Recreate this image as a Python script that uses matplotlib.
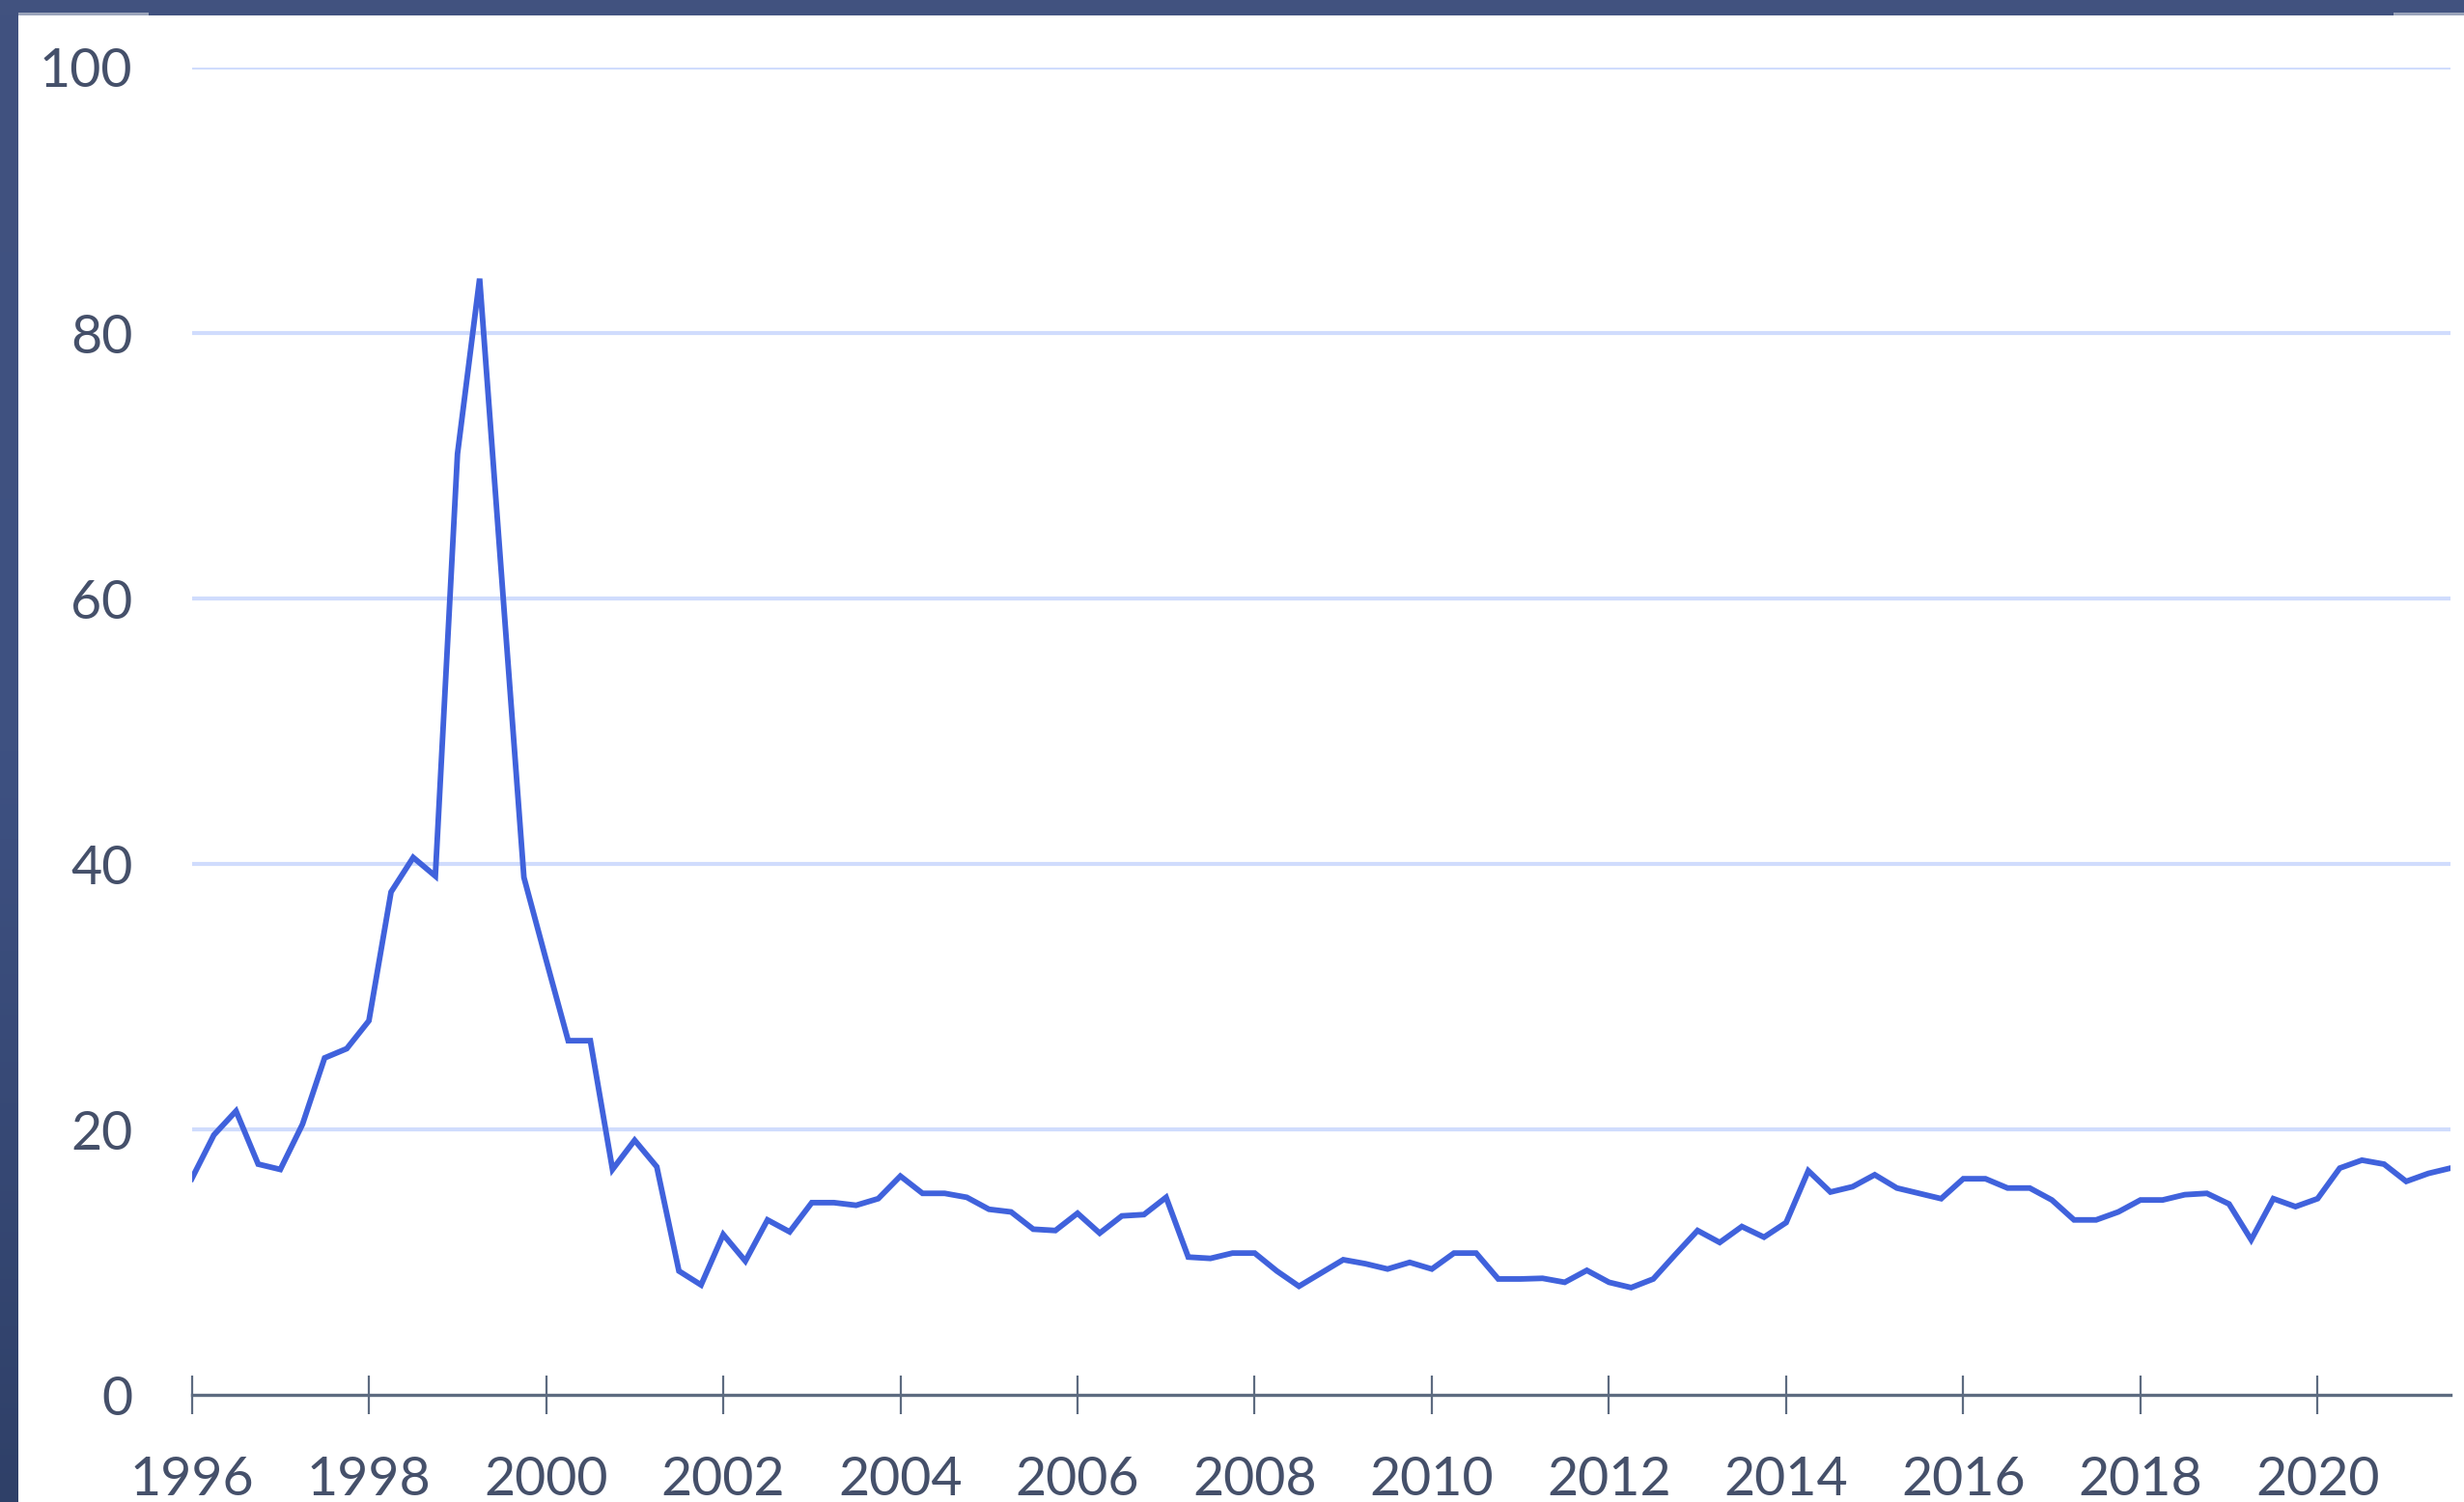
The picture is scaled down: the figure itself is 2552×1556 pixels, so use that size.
import numpy as np
import matplotlib.pyplot as plt
from matplotlib.patches import Rectangle
from matplotlib.colors import LinearSegmentedColormap

# quarterly values (1996 Q1 .. 2021 Q3)
years = np.arange(1996, 2021.5 + 0.01, 0.25)
values = [
    16.3, 19.6, 21.4, 17.4,
    17.0, 20.4, 25.4, 26.1,
    28.2, 37.9, 40.5, 39.1,
    70.9, 84.1, 61.5, 39.0,
    32.8, 26.7, 26.7, 17.0,
    19.2, 17.2, 9.35, 8.3,
    12.1, 10.1, 13.2, 12.3,
    14.5, 14.5, 14.3, 14.8,
    16.5, 15.2, 15.2, 14.9,
    14.0, 13.8, 12.5, 12.4,
    13.7, 12.2, 13.5, 13.6,
    14.9, 10.4, 10.3, 10.7,
    10.7, 9.35, 8.2, 9.2,
    10.2, 9.9, 9.5, 10.0,
    9.5, 10.7, 10.7, 8.75,
    8.75, 8.8, 8.5, 9.4,
    8.5, 8.1, 8.75, 10.6,
    12.4, 11.5, 12.7, 11.9,
    13.0, 16.9, 15.3, 15.7,
    16.6, 15.6, 15.2, 14.8,
    16.3, 16.3, 15.6, 15.6,
    14.7, 13.2, 13.2, 13.8,
    14.7, 14.7, 15.1, 15.2,
    14.4, 11.7, 14.8, 14.2,
    14.8, 17.1, 17.7, 17.4,
    16.1, 16.7, 17.1,
]
x_ticks = list(range(1996, 2021, 2))
y_ticks = [0, 20, 40, 60, 80, 100]

W, H = 2552, 1556
fig = plt.figure(figsize=(W / 100, H / 100), dpi=100)
fig.patch.set_facecolor('white')

# slide frame: dark blue strip at the left (gradient) and on top
band = fig.add_axes([0, 0, 19 / W, 1])
grad = np.linspace(0, 1, 256).reshape(-1, 1)
cmap = LinearSegmentedColormap.from_list('band', ['#41527f', '#3e5182', '#2f4068'])
band.imshow(grad, aspect='auto', cmap=cmap, extent=[0, 1, 0, 1], origin='upper')
band.axis('off')
fig.patches.append(Rectangle((0, 1 - 16 / H), 1, 16 / H, transform=fig.transFigure,
                             facecolor='#41527f', edgecolor='none', zorder=5))
fig.patches.append(Rectangle((19 / W, 1 - 16 / H), 135 / W, 3 / H, transform=fig.transFigure,
                             facecolor='#9aa3ba', edgecolor='none', zorder=6))
fig.patches.append(Rectangle((2479 / W, 1 - 16 / H), 73 / W, 3 / H, transform=fig.transFigure,
                             facecolor='#9aa3ba', edgecolor='none', zorder=6))

x0, x1 = 198.6, 2538
y0, y1 = 1445.3, 70
ax = fig.add_axes([x0 / W, 1 - y0 / H, (x1 - x0) / W, (y0 - y1) / H])
ax.set_facecolor('none')
ax.set_xlim(1996, 2021.5)
ax.set_ylim(0, 100)

for v in y_ticks[1:]:
    ax.axhline(v, color='#d0dcfd', lw=3.0, zorder=1)

ax.plot(years, values, color='#4062dc', lw=4.2, solid_joinstyle='miter', zorder=3)

for s in ['top', 'right', 'left']:
    ax.spines[s].set_visible(False)
ax.spines['bottom'].set_color('#5d6b80')
ax.spines['bottom'].set_linewidth(2.4)
ax.spines['bottom'].set_zorder(4)

ax.set_xticks(x_ticks)
ax.set_yticks(y_ticks)
ax.tick_params(axis='x', direction='inout', length=29, width=1.6, color='#5d6b80',
               pad=31, labelsize=40, labelcolor='#45506a')
ax.tick_params(axis='y', length=0, pad=44, labelsize=40, labelcolor='#45506a')
for lab in ax.get_xticklabels() + ax.get_yticklabels():
    lab.set_family('Lato')

fig.savefig('out.png', dpi=100, facecolor=fig.get_facecolor())
